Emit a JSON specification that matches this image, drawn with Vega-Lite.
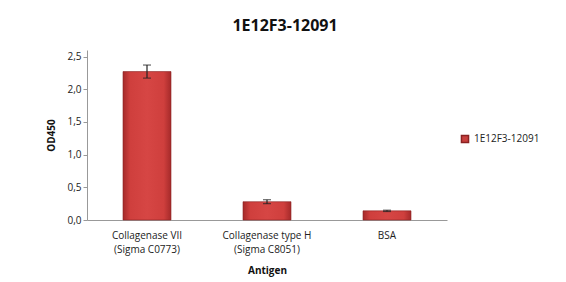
{
  "$schema": "https://vega.github.io/schema/vega-lite/v6.json",
  "width": 360,
  "height": 170,
  "autosize": "none",
  "padding": {"left": 87, "top": 50, "right": 119, "bottom": 62},
  "background": "white",
  "config": {
    "font": "Open Sans",
    "view": {"stroke": null},
    "axisY": {
      "titleFontSize": 10,
      "titleFontWeight": "bold",
      "titleColor": "#111111",
      "titlePadding": 10,
      "labelFontSize": 10,
      "labelColor": "#222222",
      "labelOverlap": false,
      "grid": false,
      "tickSize": 4,
      "tickColor": "#999999",
      "domainColor": "#999999"
    }
  },
  "title": {
    "text": "1E12F3-12091",
    "fontSize": 16,
    "fontWeight": "bold",
    "font": "Open Sans",
    "color": "#111111",
    "anchor": "middle",
    "offset": 16,
    "dx": 18
  },
  "data": {
    "values": [
      {"antigen": "Collagenase VII|(Sigma C0773)", "od": 2.27, "lo": 2.17, "hi": 2.37, "series": "1E12F3-12091"},
      {"antigen": "Collagenase type H|(Sigma C8051)", "od": 0.28, "lo": 0.25, "hi": 0.31, "series": "1E12F3-12091"},
      {"antigen": "BSA", "od": 0.14, "lo": 0.13, "hi": 0.15, "series": "1E12F3-12091"}
    ]
  },
  "encoding": {
    "x": {
      "field": "antigen",
      "type": "nominal",
      "sort": null,
      "scale": {"paddingInner": 0.6, "paddingOuter": 0.3},
      "axis": {
        "title": "Antigen",
        "titleFontSize": 10,
        "titleFontWeight": "bold",
        "titleColor": "#111111",
        "titlePadding": 11,
        "labelAngle": 0,
        "labelFontSize": 10,
        "labelColor": "#222222",
        "labelExpr": "split(datum.label, '|')",
        "labelPadding": 10,
        "ticks": false,
        "domainColor": "#999999",
        "labelLineHeight": 14
      }
    }
  },
  "layer": [
    {
      "mark": {
        "type": "bar",
        "fill": {
          "gradient": "linear",
          "x1": 0, "x2": 1, "y1": 0, "y2": 0,
          "stops": [
            {"offset": 0, "color": "#a52a2a"},
            {"offset": 0.15, "color": "#cf3f3d"},
            {"offset": 0.5, "color": "#d64644"},
            {"offset": 0.85, "color": "#cf3f3d"},
            {"offset": 1, "color": "#a52a2a"}
          ]
        },
        "stroke": "#8a2222",
        "strokeWidth": 0.6
      },
      "encoding": {
        "y": {
          "field": "od",
          "type": "quantitative",
          "title": "OD450",
          "scale": {"domain": [0, 2.5]},
          "axis": {
            "values": [0, 0.5, 1, 1.5, 2, 2.5],
            "labelExpr": "replace(format(datum.value, '.1f'), '.', ',')"
          }
        },
        "color": {
          "field": "series",
          "type": "nominal",
          "scale": {"range": ["#c8403e"]},
          "legend": {
            "title": null,
            "orient": "none",
            "legendX": 373,
            "legendY": 84,
            "symbolType": "square",
            "symbolSize": 50,
            "labelFontSize": 10,
            "labelColor": "#222222",
            "padding": 0
          }
        }
      }
    },
    {
      "mark": {"type": "errorbar", "ticks": {"size": 8, "color": "#222222"}, "color": "#222222", "thickness": 1.2},
      "encoding": {
        "y": {
          "field": "lo",
          "type": "quantitative",
          "title": "OD450",
          "axis": {
            "values": [0, 0.5, 1, 1.5, 2, 2.5],
            "labelExpr": "replace(format(datum.value, '.1f'), '.', ',')"
          }
        },
        "y2": {"field": "hi"}
      }
    }
  ]
}
